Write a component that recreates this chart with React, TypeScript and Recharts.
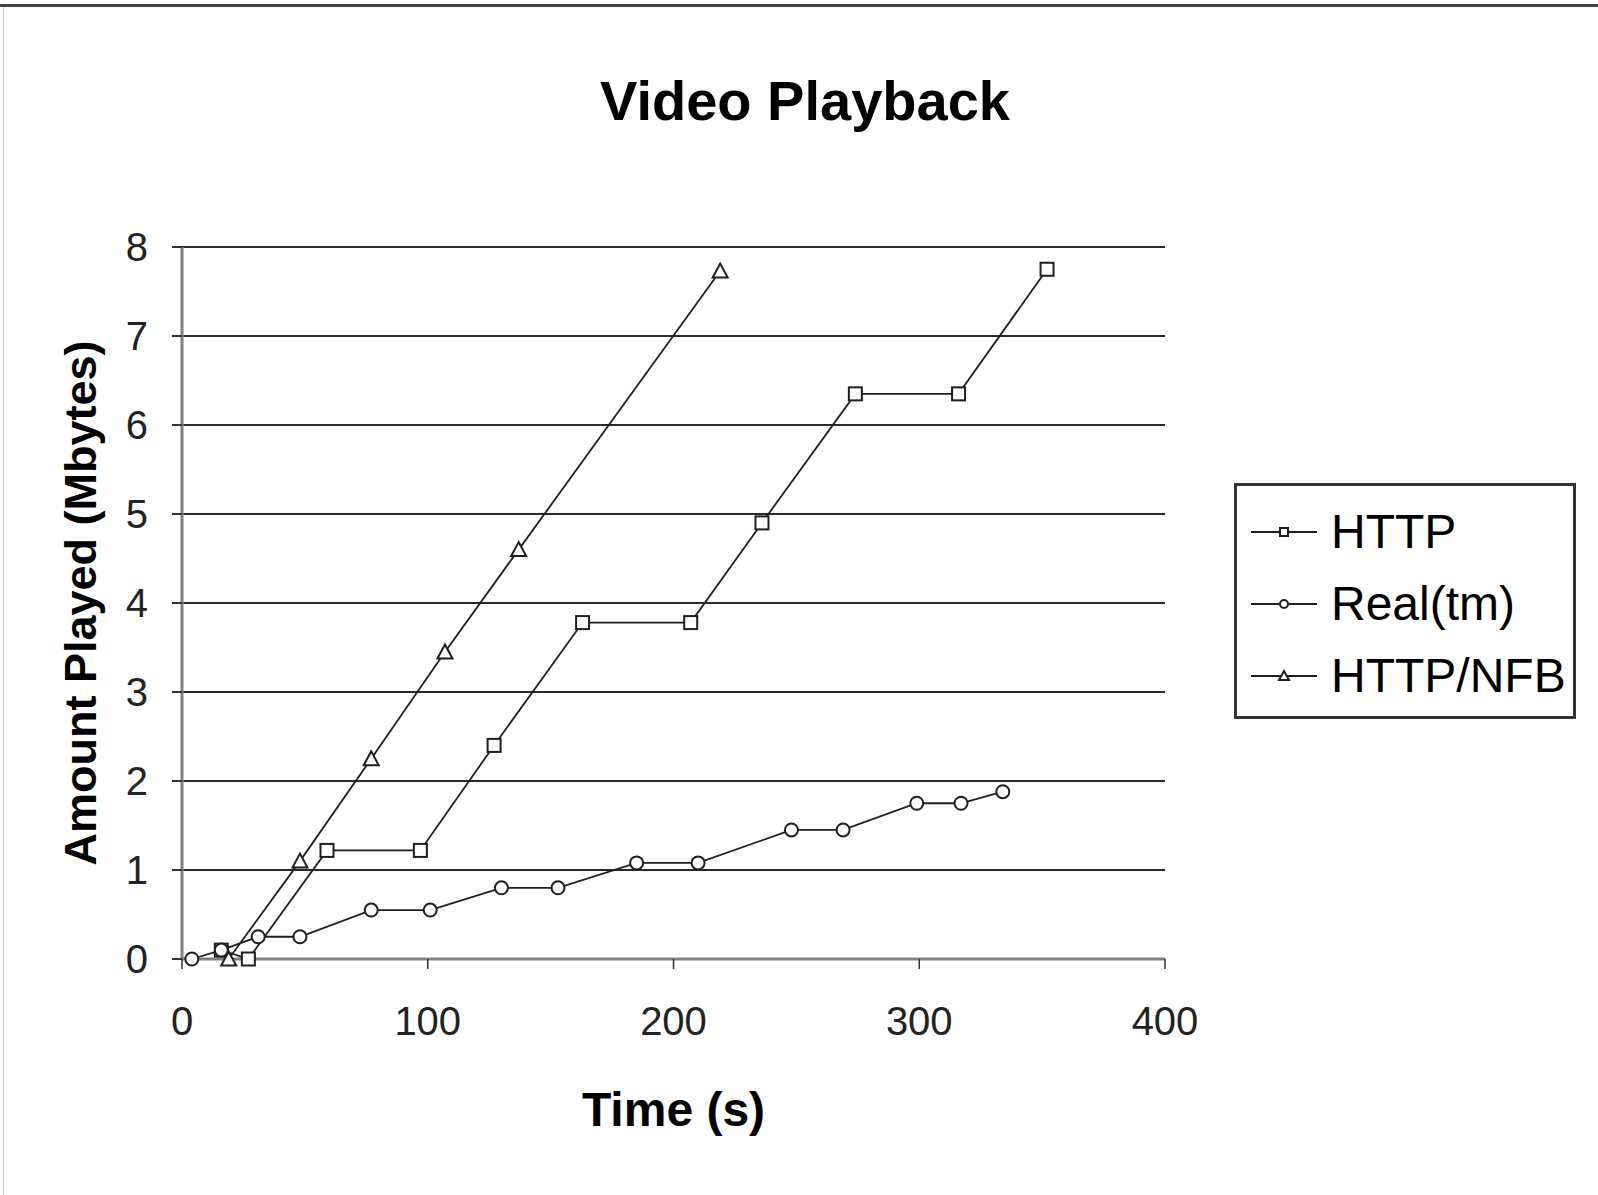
import { LineChart, Line, XAxis, YAxis, CartesianGrid, Legend } from "recharts";

const httpTime = [16, 27, 59, 97, 127, 163, 207, 236, 274, 316, 352];
const httpMb = [0.1, 0, 1.22, 1.22, 2.4, 3.78, 3.78, 4.9, 6.35, 6.35, 7.75];

const realTime = [4, 16, 31, 48, 77, 101, 130, 153, 185, 210, 248, 269, 299, 317, 334];
const realMb = [0, 0.1, 0.25, 0.25, 0.55, 0.55, 0.8, 0.8, 1.08, 1.08, 1.45, 1.45, 1.75, 1.75, 1.88];

const nfbTime = [19, 48, 77, 107, 137, 219];
const nfbMb = [0, 1.1, 2.25, 3.45, 4.6, 7.73];

const xTicks = [0, 100, 200, 300, 400];
const yTicks = [0, 1, 2, 3, 4, 5, 6, 7, 8];

const seriesNames = ["HTTP", "Real(tm)", "HTTP/NFB"];

const toPoints = (t: number[], v: number[]) => t.map((x, i) => ({ t: x, mb: v[i] }));
const httpData = toPoints(httpTime, httpMb);
const realData = toPoints(realTime, realMb);
const nfbData = toPoints(nfbTime, nfbMb);

const FONT = '"Liberation Sans", Arial, Helvetica, sans-serif';
const INK = "#1e1e1e";

const SquareDot = ({ cx, cy, size = 13 }: any) =>
  cx == null ? null : (
    <rect x={cx - size / 2} y={cy - size / 2} width={size} height={size} fill="#fff" stroke={INK} strokeWidth={2} />
  );

const CircleDot = ({ cx, cy, size = 13 }: any) =>
  cx == null ? null : <circle cx={cx} cy={cy} r={size / 2} fill="#fff" stroke={INK} strokeWidth={2} />;

const TriangleDot = ({ cx, cy, size = 13 }: any) => {
  if (cx == null) return null;
  const h = size / 2;
  return (
    <polygon
      points={`${cx},${cy - h - 1} ${cx - h - 1},${cy + h} ${cx + h + 1},${cy + h}`}
      fill="#fff"
      stroke={INK}
      strokeWidth={2}
    />
  );
};

const markers = [SquareDot, CircleDot, TriangleDot];

const LegendBox = () => (
  <div
    style={{
      border: "3px solid #333",
      background: "#fff",
      width: 342,
      height: 236,
      boxSizing: "border-box",
      padding: "10px 0 0 12px",
      fontFamily: FONT,
    }}
  >
    {seriesNames.map((name, i) => {
      const M = markers[i];
      return (
        <div key={name} style={{ display: "flex", alignItems: "center", height: 72 }}>
          <svg width={70} height={20}>
            <line x1={2} y1={10} x2={68} y2={10} stroke={INK} strokeWidth={2} />
            <M cx={35} cy={10} size={8} />
          </svg>
          <span style={{ fontSize: 48, color: "#000", marginLeft: 12, lineHeight: 1 }}>{name}</span>
        </div>
      );
    })}
  </div>
);

const YTitle = ({ viewBox }: any) => {
  const cx = 80;
  const cy = viewBox.y + viewBox.height / 2;
  return (
    <text
      x={cx}
      y={cy}
      transform={`rotate(-90 ${cx} ${cy})`}
      textAnchor="middle"
      dominantBaseline="central"
      fontFamily={FONT}
      fontWeight="bold"
      fontSize={45}
      fill="#000"
    >
      Amount Played (Mbytes)
    </text>
  );
};

const XTitle = ({ viewBox }: any) => (
  <text
    x={viewBox.x + viewBox.width / 2}
    y={1109}
    textAnchor="middle"
    dominantBaseline="central"
    fontFamily={FONT}
    fontWeight="bold"
    fontSize={48}
    fill="#000"
  >
    Time (s)
  </text>
);

export default function App() {
  return (
    <div
      style={{
        position: "absolute",
        left: 0,
        top: 0,
        width: 1598,
        height: 1195,
        background: "#fff",
        overflow: "hidden",
      }}
    >
      <div style={{ position: "absolute", left: 0, top: 4, width: 1598, height: 3, background: "#444" }} />
      <div style={{ position: "absolute", left: 3, top: 7, width: 1, height: 1188, background: "#ccc" }} />
      <div
        style={{
          position: "absolute",
          left: 0,
          width: 1598,
          top: 68,
          textAlign: "center",
          paddingLeft: 12,
          boxSizing: "border-box",
          fontFamily: FONT,
          fontWeight: "bold",
          fontSize: 56,
          lineHeight: "66px",
          color: "#000",
        }}
      >
        Video Playback
      </div>
      <div style={{ position: "absolute", left: 0, top: 0 }}>
        <LineChart width={1598} height={1195} margin={{ top: 247, right: 433, bottom: 116, left: 82 }}>
          <CartesianGrid vertical={false} stroke="#2a2a2a" strokeWidth={2} />
          <XAxis
            type="number"
            dataKey="t"
            domain={[0, 400]}
            ticks={xTicks}
            allowDataOverflow
            height={120}
            axisLine={{ stroke: "#808080", strokeWidth: 3 }}
            tickLine={{ stroke: "#333", strokeWidth: 1.5 }}
            tickSize={10}
            tickMargin={38}
            tick={{ fill: "#222", fontSize: 40, fontFamily: FONT }}
            label={<XTitle />}
          />
          <YAxis
            type="number"
            dataKey="mb"
            domain={[0, 8]}
            ticks={yTicks}
            width={100}
            axisLine={{ stroke: "#808080", strokeWidth: 3 }}
            tickLine={{ stroke: "#333", strokeWidth: 2 }}
            tickSize={10}
            tickMargin={24}
            tick={{ fill: "#222", fontSize: 40, fontFamily: FONT }}
            label={<YTitle />}
          />
          <Legend
            layout="horizontal"
            verticalAlign="middle"
            align="center"
            content={<LegendBox />}
            wrapperStyle={{ position: "absolute", left: 1234, top: 483, width: 342 }}
          />
          <Line
            name={seriesNames[0]}
            data={httpData}
            dataKey="mb"
            stroke={INK}
            strokeWidth={1.8}
            dot={<SquareDot />}
            activeDot={false}
            isAnimationActive={false}
          />
          <Line
            name={seriesNames[1]}
            data={realData}
            dataKey="mb"
            stroke={INK}
            strokeWidth={1.8}
            dot={<CircleDot />}
            activeDot={false}
            isAnimationActive={false}
          />
          <Line
            name={seriesNames[2]}
            data={nfbData}
            dataKey="mb"
            stroke={INK}
            strokeWidth={1.8}
            dot={<TriangleDot />}
            activeDot={false}
            isAnimationActive={false}
          />
        </LineChart>
      </div>
    </div>
  );
}
